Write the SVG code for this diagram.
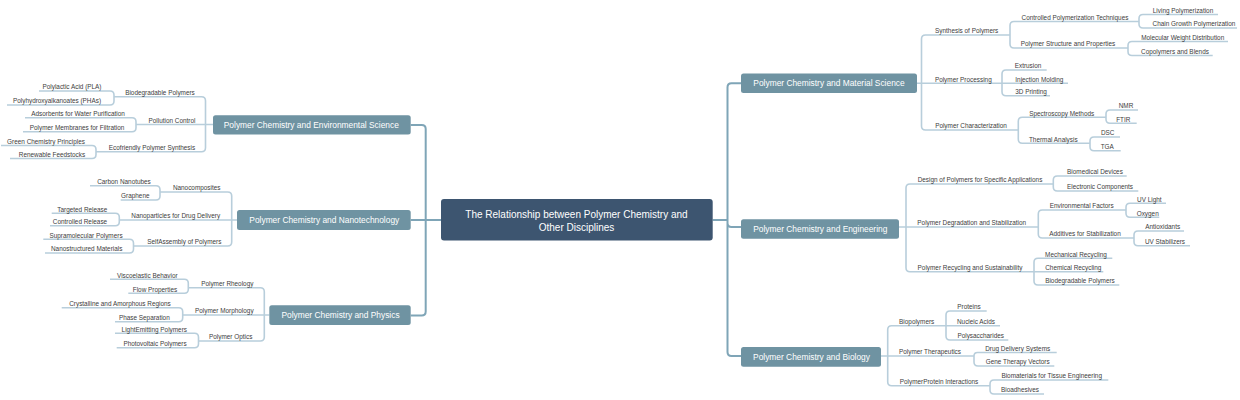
<svg xmlns="http://www.w3.org/2000/svg" width="1240" height="400" viewBox="0 0 1240 400">
<style>
.m{fill:none;stroke:#7fa5b7;stroke-width:2}
.s{fill:none;stroke:#b8cedb;stroke-width:1.6}
.t{font-family:"Liberation Sans",Arial,sans-serif;font-size:6.4px;fill:#3c3c3c;text-anchor:middle}
.n{fill:#6f93a2}
.c{fill:#3d5570}
.nt{font-family:"Liberation Sans",Arial,sans-serif;font-size:8.4px;fill:#ffffff;text-anchor:middle}
.ct{font-family:"Liberation Sans",Arial,sans-serif;font-size:10px;fill:#ffffff;text-anchor:middle}
</style>
<rect width="1240" height="400" fill="#ffffff"/>
<g id="connectors">
<path class="m" d="M712.7,220 H727.5 M727.5,220 V87.3 Q727.5,83.3 731.5,83.3 H741 M727.5,220 V223 Q727.5,227 731.5,227 H741 M727.5,220 V352 Q727.5,356 731.5,356 H741"/>
<path class="m" d="M441,220 H425.7 M425.7,220 V129 Q425.7,125 421.7,125 H410.7 M425.7,220 H410.7 M425.7,220 V311.5 Q425.7,315.5 421.7,315.5 H410.7"/>
<path class="s" d="M917,83.3 H921.5
M921.5,83.3 V39 Q921.5,35 925.5,35 H1010
M921.5,83.3 H1002
M921.5,83.3 V126 Q921.5,130 925.5,130 H1018.3
M1010,35 V25.5 Q1010,21.5 1014,21.5 H1139
M1010,35 V44 Q1010,48 1014,48 H1128
M1139,21.5 V18.5 Q1139,14.5 1143,14.5 H1218
M1139,21.5 V24 Q1139,28 1143,28 H1237
M1128,48 V45.5 Q1128,41.5 1132,41.5 H1228
M1128,48 V51.5 Q1128,55.5 1132,55.5 H1212.7
M1002,83.3 V74 Q1002,70 1006,70 H1046.7
M1002,83.3 H1068
M1002,83.3 V91.7 Q1002,95.7 1006,95.7 H1050
M1018.3,130 V121.3 Q1018.3,117.3 1022.3,117.3 H1106
M1018.3,130 V139.3 Q1018.3,143.3 1022.3,143.3 H1090
M1106,117.3 V114 Q1106,110 1110,110 H1138
M1106,117.3 V119.3 Q1106,123.3 1110,123.3 H1136.7
M1090,143.3 V141 Q1090,137 1094,137 H1120
M1090,143.3 V146.7 Q1090,150.7 1094,150.7 H1120.7
M899,227 H906
M906,227 V188 Q906,184 910,184 H1053.3
M906,227 H1038.3
M906,227 V267.7 Q906,271.7 910,271.7 H1034
M1053.3,184 V180 Q1053.3,176 1057.3,176 H1126.7
M1053.3,184 V187 Q1053.3,191 1057.3,191 H1138.3
M1038.3,227 V214 Q1038.3,210 1042.3,210 H1126
M1038.3,227 V234 Q1038.3,238 1042.3,238 H1134
M1126,210 V207.3 Q1126,203.3 1130,203.3 H1166
M1126,210 V213.3 Q1126,217.3 1130,217.3 H1159.3
M1134,238 V235 Q1134,231 1138,231 H1184
M1134,238 V241.7 Q1134,245.7 1138,245.7 H1190
M1034,271.7 V262.3 Q1034,258.3 1038,258.3 H1112.3
M1034,271.7 H1103.3
M1034,271.7 V281 Q1034,285 1038,285 H1119.3
M881,356 H887.7
M887.7,356 V329.7 Q887.7,325.7 891.7,325.7 H946
M887.7,356 H974
M887.7,356 V381.7 Q887.7,385.7 891.7,385.7 H990
M946,325.7 V315 Q946,311 950,311 H986.7
M946,325.7 H1000
M946,325.7 V336 Q946,340 950,340 H1008.3
M974,356 Q974,352.5 977.5,352.5 H1056.7
M974,356 V362 Q974,366 978,366 H1054.3
M990,385.7 V384 Q990,380 994,380 H1108.3
M990,385.7 V390 Q990,394 994,394 H1044
M213,124.5 H205.5
M205.5,124.5 V100.7 Q205.5,96.7 201.5,96.7 H114
M205.5,124.5 H136
M205.5,124.5 V147.7 Q205.5,151.7 201.5,151.7 H96
M114,96.7 V95 Q114,91 110,91 H39
M114,96.7 V101 Q114,105 110,105 H7
M136,124.5 V121.7 Q136,117.7 132,117.7 H25
M136,124.5 V127.7 Q136,131.7 132,131.7 H23
M96,151.7 V149.5 Q96,145.5 92,145.5 H1
M96,151.7 V154.5 Q96,158.5 92,158.5 H10
M237,220 H231.7
M231.7,220 V196 Q231.7,192 227.7,192 H160
M231.7,220 H119.3
M231.7,220 V242 Q231.7,246 227.7,246 H133.5
M160,192 V189.7 Q160,185.7 156,185.7 H90
M160,192 V196 Q160,200 156,200 H120.7
M119.3,220 V217.3 Q119.3,213.3 115.3,213.3 H51.7
M119.3,220 V221.7 Q119.3,225.7 115.3,225.7 H50
M133.5,246 V243.3 Q133.5,239.3 129.5,239.3 H43.3
M133.5,246 V249 Q133.5,253 129.5,253 H45
M269.3,315 H264.3
M264.3,315 V291.7 Q264.3,287.7 260.3,287.7 H188.3
M264.3,315 H182.7
M264.3,315 V337 Q264.3,341 260.3,341 H198.5
M188.3,287.7 V283.3 Q188.3,279.3 184.3,279.3 H110
M188.3,287.7 V289.3 Q188.3,293.3 184.3,293.3 H128.3
M182.7,315 V311.7 Q182.7,307.7 178.7,307.7 H61.7
M182.7,315 V317.7 Q182.7,321.7 178.7,321.7 H115
M198.5,341 V337.3 Q198.5,333.3 194.5,333.3 H115
M198.5,341 V343.7 Q198.5,347.7 194.5,347.7 H116.7"/>
</g>
<g id="root"><rect class="c" x="441" y="199" width="271.7" height="41.5" rx="3"/><text class="ct" x="576.5" y="218.4">The Relationship between Polymer Chemistry and</text><text class="ct" x="576.5" y="230.6">Other Disciplines</text></g>
<g id="n-material"><rect class="n" x="741" y="73.5" width="176" height="19.5" rx="2.5"/><text class="nt" x="829" y="86.4">Polymer Chemistry and Material Science</text></g>
<g id="n-engineering"><rect class="n" x="741" y="219.3" width="158" height="19.5" rx="2.5"/><text class="nt" x="820.3" y="232.3">Polymer Chemistry and Engineering</text></g>
<g id="n-biology"><rect class="n" x="741" y="347" width="140" height="19.7" rx="2.5"/><text class="nt" x="811.5" y="360">Polymer Chemistry and Biology</text></g>
<g id="n-environment"><rect class="n" x="213" y="115.3" width="197.7" height="19.3" rx="2.5"/><text class="nt" x="311.3" y="128.2">Polymer Chemistry and Environmental Science</text></g>
<g id="n-nano"><rect class="n" x="237" y="210" width="173.7" height="20" rx="2.5"/><text class="nt" x="324.3" y="223.2">Polymer Chemistry and Nanotechnology</text></g>
<g id="n-physics"><rect class="n" x="269.3" y="305.2" width="141.4" height="19.8" rx="2.5"/><text class="nt" x="340.5" y="318.3">Polymer Chemistry and Physics</text></g>
<g id="labels-material">
<text class="t" x="966.7" y="33.2">Synthesis of Polymers</text>
<text class="t" x="963.3" y="81.5">Polymer Processing</text>
<text class="t" x="971" y="128.2">Polymer Characterization</text>
<text class="t" x="1075" y="19.7">Controlled Polymerization Techniques</text>
<text class="t" x="1068" y="46.2">Polymer Structure and Properties</text>
<text class="t" x="1183" y="12.7">Living Polymerization</text>
<text class="t" x="1194" y="26.2">Chain Growth Polymerization</text>
<text class="t" x="1182.7" y="39.7">Molecular Weight Distribution</text>
<text class="t" x="1175" y="53.7">Copolymers and Blends</text>
<text class="t" x="1028" y="68.2">Extrusion</text>
<text class="t" x="1039.3" y="81.5">Injection Molding</text>
<text class="t" x="1031" y="93.9">3D Printing</text>
<text class="t" x="1061.7" y="115.5">Spectroscopy Methods</text>
<text class="t" x="1053.3" y="141.5">Thermal Analysis</text>
<text class="t" x="1126" y="108.2">NMR</text>
<text class="t" x="1123.3" y="121.5">FTIR</text>
<text class="t" x="1107.7" y="135.2">DSC</text>
<text class="t" x="1107.3" y="148.9">TGA</text>
</g>
<g id="labels-engineering">
<text class="t" x="980" y="182.2">Design of Polymers for Specific Applications</text>
<text class="t" x="971.7" y="225.2">Polymer Degradation and Stabilization</text>
<text class="t" x="970" y="269.9">Polymer Recycling and Sustainability</text>
<text class="t" x="1095" y="174.2">Biomedical Devices</text>
<text class="t" x="1100" y="189.2">Electronic Components</text>
<text class="t" x="1081.7" y="208.2">Environmental Factors</text>
<text class="t" x="1085" y="236.2">Additives for Stabilization</text>
<text class="t" x="1149.3" y="201.5">UV Light</text>
<text class="t" x="1147.7" y="215.5">Oxygen</text>
<text class="t" x="1162.7" y="229.2">Antioxidants</text>
<text class="t" x="1165" y="243.9">UV Stabilizers</text>
<text class="t" x="1076" y="256.5">Mechanical Recycling</text>
<text class="t" x="1073.3" y="269.9">Chemical Recycling</text>
<text class="t" x="1080" y="283.2">Biodegradable Polymers</text>
</g>
<g id="labels-biology">
<text class="t" x="916.7" y="323.9">Biopolymers</text>
<text class="t" x="930" y="354.2">Polymer Therapeutics</text>
<text class="t" x="939" y="383.9">PolymerProtein Interactions</text>
<text class="t" x="969" y="309.2">Proteins</text>
<text class="t" x="976" y="323.9">Nucleic Acids</text>
<text class="t" x="980.7" y="338.2">Polysaccharides</text>
<text class="t" x="1017.7" y="350.7">Drug Delivery Systems</text>
<text class="t" x="1017.7" y="364.2">Gene Therapy Vectors</text>
<text class="t" x="1051.7" y="378.2">Biomaterials for Tissue Engineering</text>
<text class="t" x="1020" y="392.2">Bioadhesives</text>
</g>
<g id="labels-environment">
<text class="t" x="160" y="94.9">Biodegradable Polymers</text>
<text class="t" x="172" y="122.7">Pollution Control</text>
<text class="t" x="152" y="149.9">Ecofriendly Polymer Synthesis</text>
<text class="t" x="72" y="89.2">Polylactic Acid (PLA)</text>
<text class="t" x="57" y="103.2">Polyhydroxyalkanoates (PHAs)</text>
<text class="t" x="78" y="115.9">Adsorbents for Water Purification</text>
<text class="t" x="77" y="129.9">Polymer Membranes for Filtration</text>
<text class="t" x="46" y="143.7">Green Chemistry Principles</text>
<text class="t" x="52" y="156.7">Renewable Feedstocks</text>
</g>
<g id="labels-nano">
<text class="t" x="196.7" y="190.2">Nanocomposites</text>
<text class="t" x="175.7" y="218.2">Nanoparticles for Drug Delivery</text>
<text class="t" x="184.3" y="244.2">SelfAssembly of Polymers</text>
<text class="t" x="124" y="183.9">Carbon Nanotubes</text>
<text class="t" x="135.3" y="198.2">Graphene</text>
<text class="t" x="82.3" y="211.5">Targeted Release</text>
<text class="t" x="80" y="223.9">Controlled Release</text>
<text class="t" x="86" y="237.5">Supramolecular Polymers</text>
<text class="t" x="86.7" y="251.2">Nanostructured Materials</text>
</g>
<g id="labels-physics">
<text class="t" x="227.3" y="285.9">Polymer Rheology</text>
<text class="t" x="224.3" y="313.2">Polymer Morphology</text>
<text class="t" x="230.7" y="339.2">Polymer Optics</text>
<text class="t" x="147.3" y="277.5">Viscoelastic Behavior</text>
<text class="t" x="155" y="291.5">Flow Properties</text>
<text class="t" x="120" y="305.9">Crystalline and Amorphous Regions</text>
<text class="t" x="144.3" y="319.9">Phase Separation</text>
<text class="t" x="154.3" y="331.5">LightEmitting Polymers</text>
<text class="t" x="155" y="345.9">Photovoltaic Polymers</text>
</g>
</svg>
